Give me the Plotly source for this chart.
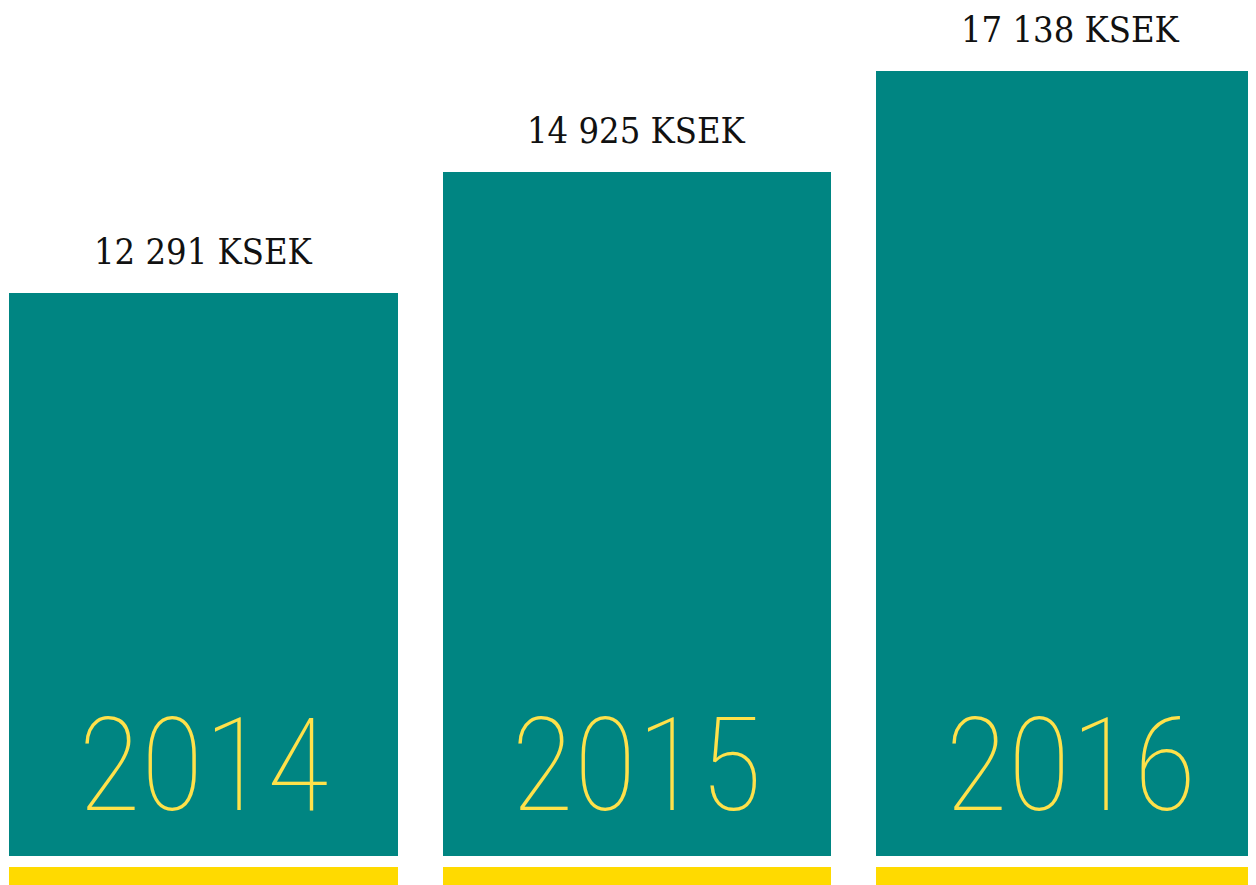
import plotly.graph_objects as go

years = ["2014", "2015", "2016"]
values = [12291, 14925, 17138]
value_labels = ["12 291 KSEK", "14 925 KSEK", "17 138 KSEK"]
strip = [1, 1, 1]

TEAL = "#008582"
YELLOW_TEXT = "#FFE14A"
YELLOW_STRIP = "#FFDA00"

xs = list(range(len(years)))

fig = go.Figure()
fig.add_trace(go.Bar(x=xs, y=values, width=0.897, marker_color=TEAL,
                     marker_line_width=0, hoverinfo="skip", yaxis="y"))
fig.add_trace(go.Bar(x=xs, y=strip, width=0.897, marker_color=YELLOW_STRIP,
                     marker_line_width=0, hoverinfo="skip", yaxis="y2"))

annotations = []
for x, v, lab, yr in zip(xs, values, value_labels, years):
    annotations.append(dict(x=x, y=v, xref="x", yref="y", text=lab, showarrow=False,
                            yanchor="bottom", yshift=19,
                            font=dict(family="Roboto Slab, DejaVu Serif Condensed, DejaVu Serif, serif",
                                      size=36, color="#111111")))
    annotations.append(dict(x=x, y=0, xref="x", yref="y", text=yr, showarrow=False,
                            yanchor="bottom", yshift=12,
                            font=dict(family="Roboto Condensed, Roboto", size=130, color=YELLOW_TEXT, weight=100)))

W, H = 1248, 877
fig.update_layout(
    width=W, height=H,
    margin=dict(l=0, r=0, t=0, b=0),
    paper_bgcolor="white", plot_bgcolor="white",
    showlegend=False, bargap=0,
    xaxis=dict(range=[-0.451, 2.428], visible=False, fixedrange=True),
    yaxis=dict(range=[0, 18515], domain=[29/H, 1], visible=False, fixedrange=True),
    yaxis2=dict(range=[0, 1], domain=[0, 18/H], visible=False, fixedrange=True),
    annotations=annotations,
)

fig.write_html("out.html")
